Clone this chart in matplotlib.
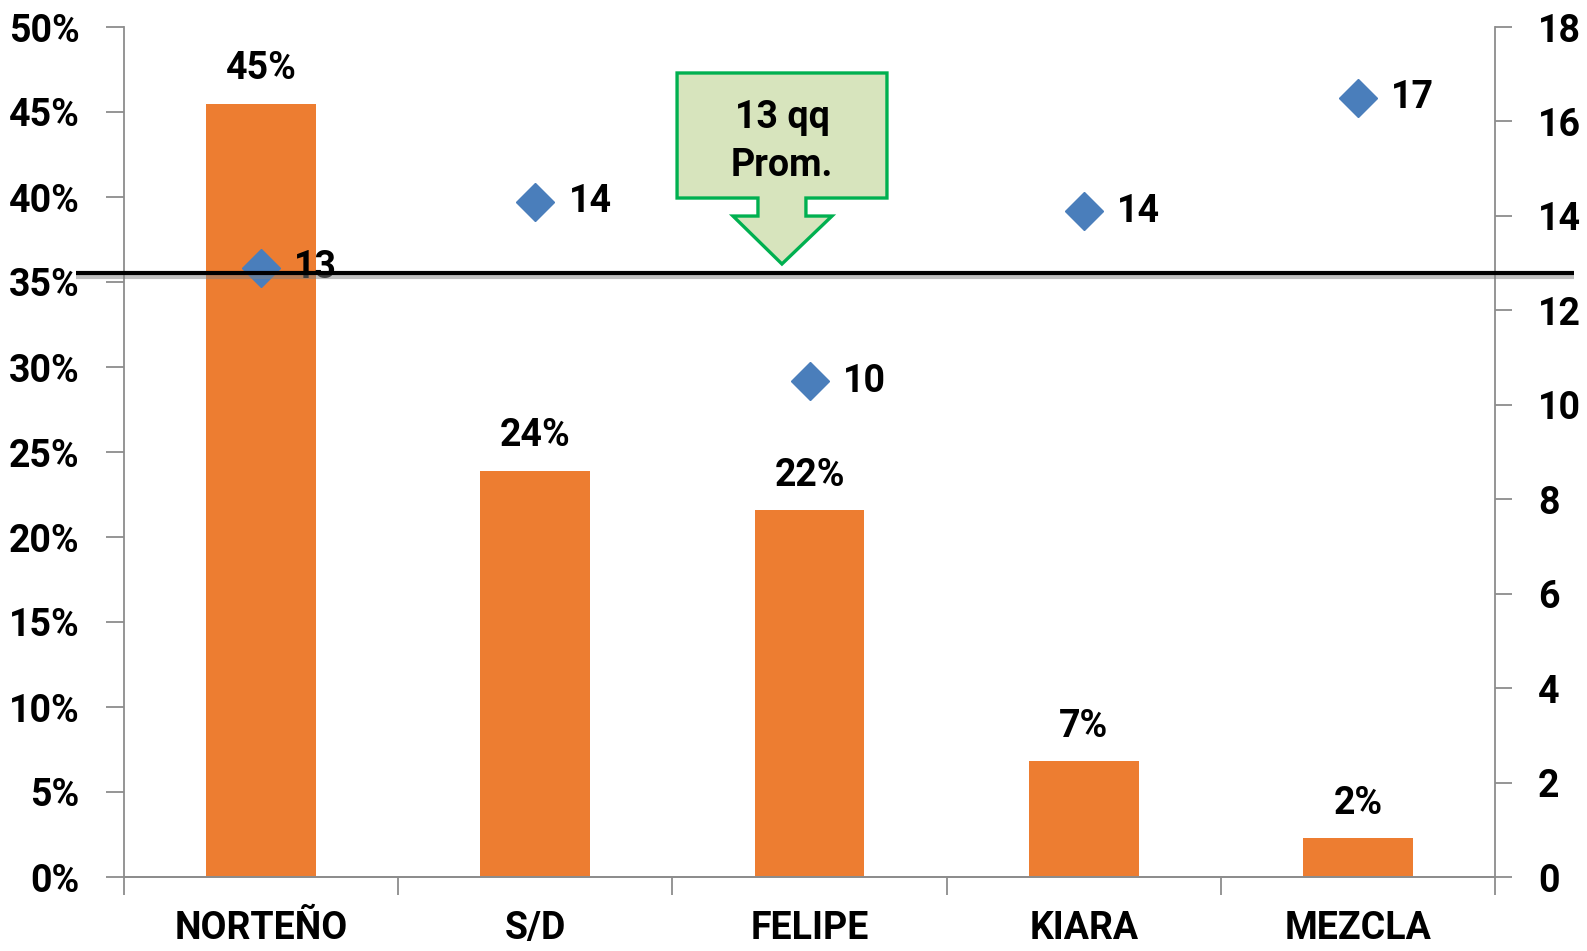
import matplotlib
matplotlib.use("Agg")
import matplotlib.pyplot as plt
import matplotlib.patheffects as pe
from matplotlib.patches import Polygon
from matplotlib.ticker import FuncFormatter, MultipleLocator
from matplotlib.transforms import blended_transform_factory
import numpy as np

categories = ["NORTEÑO", "S/D", "FELIPE", "KIARA", "MEZCLA"]
shares = [45.5, 23.9, 21.6, 6.8, 2.3]           # % (left axis)
quintales = [12.9, 14.3, 10.5, 14.1, 16.5]        # qq (right axis)
share_labels = ["45%", "24%", "22%", "7%", "2%"]
qq_labels = ["13", "14", "10", "14", "17"]
average_qq = 12.8
callout_lines = ["13 qq", "Prom."]

plt.rcParams['font.family'] = ['Roboto', 'DejaVu Sans']
plt.rcParams['font.weight'] = 'bold'
FS = 27
SPINE = '#8c8c8c'

fig = plt.figure(figsize=(15.87, 9.51), dpi=100)
ax = fig.add_axes([124/1587, 1-877/951, (1495-124)/1587, (877-27)/951])
ax2 = ax.twinx()

x = np.arange(len(categories))
ax.bar(x, shares, width=0.40, color='#ED7D31', zorder=2)
ax.set_xlim(-0.5, len(categories)-0.5)
ax.set_ylim(0, 50)
ax.yaxis.set_major_locator(MultipleLocator(5))
ax.yaxis.set_major_formatter(FuncFormatter(lambda v, p: f"{v:.0f}%"))

for xi, v, lab in zip(x, shares, share_labels):
    ax.annotate(lab, (xi, v), xytext=(0, 25), textcoords='offset points',
                ha='center', va='center', fontsize=FS, fontweight='bold')

ax2.set_ylim(0, 18)
ax2.yaxis.set_major_locator(MultipleLocator(2))
ax2.plot(x, quintales, linestyle='none', marker='D', markersize=19,
         color='#4A7EBB', zorder=3)
for xi, v, lab in zip(x, quintales, qq_labels):
    ax2.annotate(lab, (xi, v), xytext=(24, 0), textcoords='offset points',
                 ha='left', va='center', fontsize=FS, fontweight='bold', zorder=4)

# average line extending beyond the plot area
trans = blended_transform_factory(ax2.transAxes, ax2.transData)
ax2.plot([-0.035, 1.0576], [average_qq, average_qq], transform=trans, color='black',
         lw=3.0, clip_on=False, zorder=5, solid_capstyle='butt',
         path_effects=[pe.SimpleLineShadow(offset=(0, -3), shadow_color='gray', alpha=0.5),
                       pe.Normal()])

# x ticks between categories
ax.set_xticks(np.arange(-0.5, len(categories), 1.0))
ax.set_xticklabels([])
ax.set_xticks(x, minor=True)
ax.set_xticklabels(categories, minor=True)
ax.tick_params(axis='x', which='major', length=13, width=1.3, color=SPINE, direction='out')
ax.tick_params(axis='x', which='minor', length=0, pad=24, labelsize=FS)
ax.tick_params(axis='y', length=13, width=1.3, color=SPINE, pad=19, labelsize=FS)
ax2.tick_params(axis='y', length=12, width=1.3, color=SPINE, pad=19, labelsize=FS)
for lbl in ax.get_xticklabels(minor=True) + ax.get_yticklabels() + ax2.get_yticklabels():
    lbl.set_fontweight('bold')

for a in (ax, ax2):
    a.spines['top'].set_visible(False)
    for s in ('left', 'right', 'bottom'):
        a.spines[s].set_color(SPINE)
        a.spines[s].set_linewidth(1.3)
ax.spines['right'].set_visible(False)
ax2.spines['left'].set_visible(False)

# callout arrow
pts = [(0.4034, 0.9459), (0.5565, 0.9459), (0.5565, 0.7988), (0.4974, 0.7988),
       (0.4974, 0.7776), (0.5164, 0.7776), (0.4799, 0.7212), (0.4442, 0.7776),
       (0.4624, 0.7776), (0.4624, 0.7988), (0.4034, 0.7988)]
poly = Polygon(pts, closed=True, transform=ax2.transAxes, facecolor='#D7E4BD',
               edgecolor='#00B050', lw=2.4, joinstyle='miter', zorder=6)
ax2.add_patch(poly)
ax2.text(0.4799, 0.8941, callout_lines[0], transform=ax2.transAxes, ha='center',
         va='center', fontsize=FS, fontweight='bold', zorder=7)
ax2.text(0.4799, 0.8376, callout_lines[1], transform=ax2.transAxes, ha='center',
         va='center', fontsize=FS, fontweight='bold', zorder=7)

fig.savefig("out.png", dpi=100)
